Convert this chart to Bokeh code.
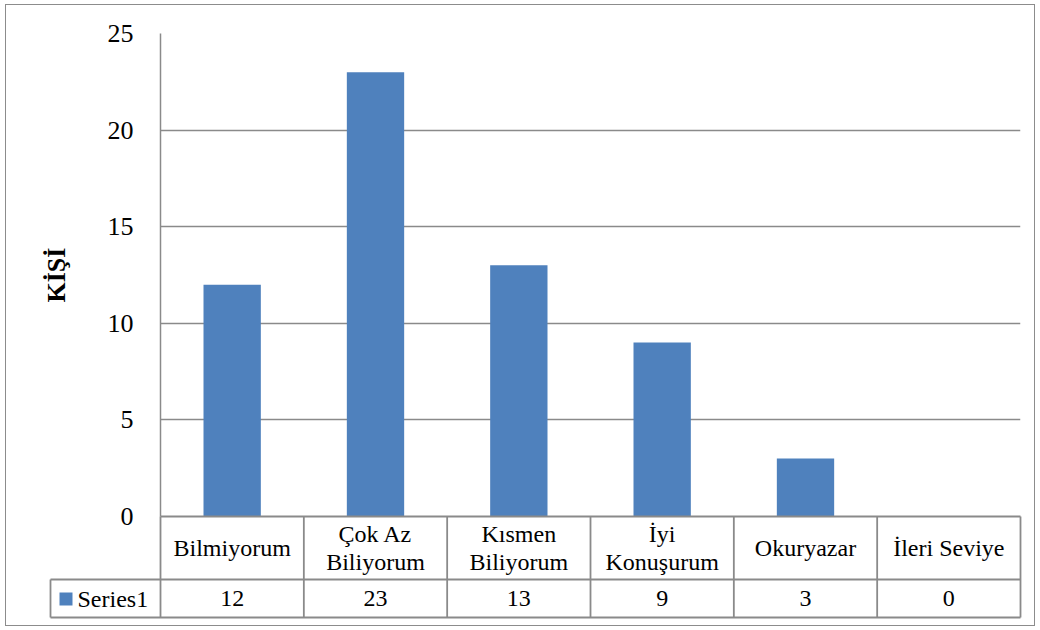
from bokeh.plotting import figure
from bokeh.models import FactorRange, Range1d, FixedTicker
from bokeh.embed import file_html
from bokeh.resources import INLINE
from bokeh.core.properties import value

# ---------------- data ----------------
categories = ["Bilmiyorum", "Çok Az\nBiliyorum", "Kısmen\nBiliyorum",
              "İyi\nKonuşurum", "Okuryazar", "İleri Seviye"]
values = [12, 23, 13, 9, 3, 0]
series_name = "Series1"
y_ticks = [0, 5, 10, 15, 20, 25]
y_label = "KİŞİ"

# ---------------- style ----------------
BAR = "#4f81bd"
GRID = "#8a8a8a"
FONT = "Liberation Serif"
n = len(categories)

frame_w, frame_h = 860, 483
y_max = 25
CW = frame_w / n            # px per category
PPU = frame_h / y_max       # px per y unit

p = figure(x_range=FactorRange(factors=categories, range_padding=0, factor_padding=0),
           y_range=Range1d(0, y_max),
           width=1030, height=622,
           min_border_left=154, min_border_right=16,
           min_border_top=28, min_border_bottom=111,
           output_backend="svg", toolbar_location=None,
           styles={"border": "1px solid #8c8c8c", "margin": "4px 0px 0px 5px"})
p.outline_line_color = None
p.xaxis.visible = False
p.xgrid.grid_line_color = None
p.ygrid.grid_line_color = GRID
p.ygrid.grid_line_width = 1.5
p.yaxis.ticker = FixedTicker(ticks=y_ticks)
p.yaxis.axis_line_color = GRID
p.yaxis.axis_line_width = 1.5
p.yaxis.major_tick_out = 0
p.yaxis.major_tick_in = 0
p.yaxis.minor_tick_out = 0
p.yaxis.minor_tick_in = 0
p.yaxis.major_label_standoff = 27
p.yaxis.major_label_text_font = FONT
p.yaxis.major_label_text_font_size = "26px"
p.yaxis.major_label_text_color = "black"
p.yaxis.axis_label = y_label
p.yaxis.axis_label_text_font = FONT
p.yaxis.axis_label_text_font_size = "26px"
p.yaxis.axis_label_text_font_style = "bold"
p.yaxis.axis_label_text_color = "black"
p.yaxis.axis_label_standoff = 34

p.vbar(x=categories, top=values, width=0.4, color=BAR, line_color=None)

# ---------------- data table (below the plot area) ----------------
def ypx(d):
    """y data value that lies d pixels below the zero line"""
    return -d / PPU

x_left = -110 / CW                 # left edge of legend cell
row1 = ypx(63)                     # bottom of category row
row2 = ypx(101)                    # bottom of series row
row_mid = (row1 + row2) / 2

bx = [float(i) for i in range(n + 1)]
xs0 = bx + [x_left, x_left, x_left, 0.0]
ys0 = [row2] * (n + 1) + [row2, row1, row2, 0.0]
xs1 = bx + [x_left, float(n), float(n), float(n)]
ys1 = [0.0] * (n + 1) + [row1, row1, row2, 0.0]
r = p.segment(x0=xs0, y0=ys0, x1=xs1, y1=ys1, line_color=GRID, line_width=1.8)
r.level = "overlay"

centers = [i + 0.5 for i in range(n)]
t1 = p.text(x=centers, y=[row1 / 2] * n, text=categories,
            text_font=value(FONT), text_font_size="24px", text_color="black",
            text_align="center", text_baseline="middle", text_line_height=1.1)
t1.level = "overlay"
t2 = p.text(x=centers, y=[row_mid] * n, text=[str(v) for v in values],
            text_font=value(FONT), text_font_size="24px", text_color="black",
            text_align="center", text_baseline="middle")
t2.level = "overlay"

# legend key
k = p.quad(left=[x_left + 9 / CW], right=[x_left + 22 / CW],
           bottom=[row_mid - 7 / PPU], top=[row_mid + 6 / PPU],
           fill_color=BAR, line_color=None)
k.level = "overlay"
t3 = p.text(x=[x_left + 27 / CW], y=[row_mid], text=[series_name],
            text_font=value(FONT), text_font_size="24px", text_color="black",
            text_align="left", text_baseline="middle")
t3.level = "overlay"

open("out.html", "w").write(file_html(p, INLINE))
